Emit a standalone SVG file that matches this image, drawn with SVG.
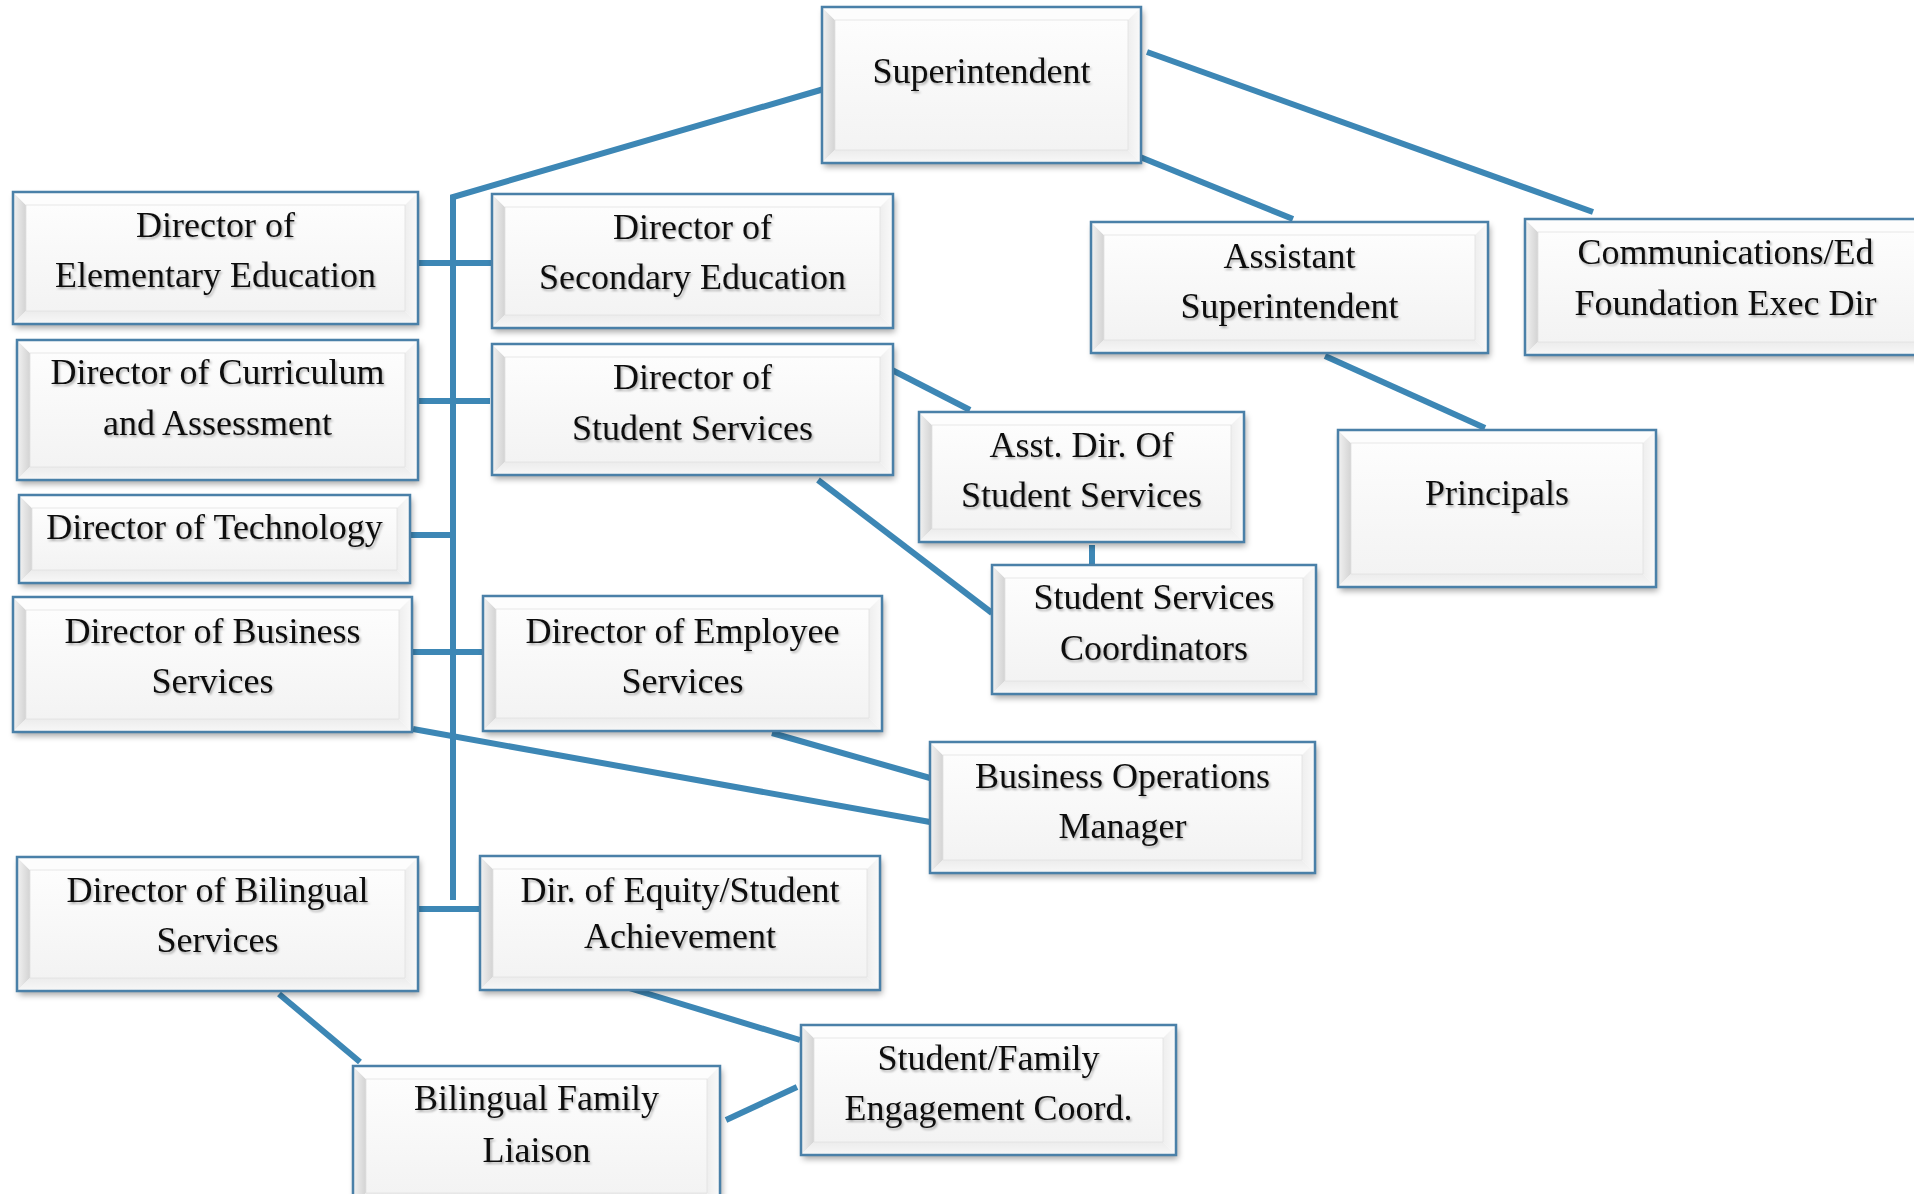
<svg xmlns="http://www.w3.org/2000/svg" width="1914" height="1194" viewBox="0 0 1914 1194">
<defs>
<style>
.o{fill:#fff;filter:url(#sh)}
.s{fill:none;stroke:#4a80a8;stroke-width:2.5}
.bl{fill:url(#gl)}
.bt{fill:#fdfdfd}
.br{fill:url(#gr)}
.bb{fill:url(#gb)}
.f{fill:url(#gf);stroke:#e2e2e2;stroke-width:0.8}
text{font-family:"Liberation Serif","Times New Roman",serif;font-size:36px;fill:#111;text-anchor:middle;filter:url(#ts)}
.c{fill:none;stroke:#3d87b5;stroke-width:6;stroke-linecap:butt;stroke-linejoin:miter}
</style>
<linearGradient id="gl" x1="0" y1="0" x2="1" y2="0"><stop offset="0" stop-color="#f2f2f2"/><stop offset="1" stop-color="#d3d3d3"/></linearGradient>
<linearGradient id="gr" x1="0" y1="0" x2="1" y2="0"><stop offset="0" stop-color="#eeeeee"/><stop offset="1" stop-color="#fafafa"/></linearGradient>
<linearGradient id="gb" x1="0" y1="0" x2="0" y2="1"><stop offset="0" stop-color="#ececec"/><stop offset="1" stop-color="#f8f8f8"/></linearGradient>
<linearGradient id="gf" x1="0" y1="0" x2="0" y2="1"><stop offset="0" stop-color="#fdfdfd"/><stop offset="1" stop-color="#f3f3f3"/></linearGradient>
<filter id="sh" x="-5%" y="-5%" width="112%" height="120%"><feDropShadow dx="2" dy="4" stdDeviation="3" flood-color="#000" flood-opacity="0.35"/></filter>
<filter id="ts" x="-5%" y="-20%" width="110%" height="150%"><feDropShadow dx="1.5" dy="2" stdDeviation="1.2" flood-color="#000" flood-opacity="0.3"/></filter>
</defs>
<rect width="1914" height="1194" fill="#fff"/>
<g id="connectors">
<polyline class="c" points="824,89 453,197 453,900"/>
<path class="c" d="M418,263 H492"/>
<path class="c" d="M418,401 H490"/>
<path class="c" d="M410,535 H453"/>
<path class="c" d="M413,652 H483"/>
<path class="c" d="M418,909 H480"/>
<path class="c" d="M1147,52 L1593,212"/>
<path class="c" d="M1140,157 L1293,219"/>
<path class="c" d="M1325,356 L1485,428"/>
<path class="c" d="M892,370 L970,410"/>
<path class="c" d="M818,480 L992,613"/>
<path class="c" d="M1092,545 V565"/>
<path class="c" d="M772,733 L930,778"/>
<path class="c" d="M413,729 L930,822"/>
<path class="c" d="M279,994 L360,1062"/>
<path class="c" d="M629,988 L800,1040"/>
<path class="c" d="M726,1120 L797,1087"/>
</g>
<g id="n-super" transform="translate(822,7)">
<rect class="o" width="319" height="156"/>
<polygon class="bl" points="0,0 13,13 13,143 0,156"/><polygon class="bt" points="0,0 319,0 306,13 13,13"/><polygon class="br" points="319,0 319,156 306,143 306,13"/><polygon class="bb" points="0,156 13,143 306,143 319,156"/>
<rect class="f" x="13" y="13" width="293" height="130"/><rect class="s" width="319" height="156"/>
<text x="159.5" y="76">Superintendent</text>
</g>
<g id="n-elem" transform="translate(13,192)">
<rect class="o" width="405" height="132"/>
<polygon class="bl" points="0,0 13,13 13,119 0,132"/><polygon class="bt" points="0,0 405,0 392,13 13,13"/><polygon class="br" points="405,0 405,132 392,119 392,13"/><polygon class="bb" points="0,132 13,119 392,119 405,132"/>
<rect class="f" x="13" y="13" width="379" height="106"/><rect class="s" width="405" height="132"/>
<text x="202.5" y="45">Director of</text><text x="202.5" y="95">Elementary Education</text>
</g>
<g id="n-sec" transform="translate(492,194)">
<rect class="o" width="401" height="134"/>
<polygon class="bl" points="0,0 13,13 13,121 0,134"/><polygon class="bt" points="0,0 401,0 388,13 13,13"/><polygon class="br" points="401,0 401,134 388,121 388,13"/><polygon class="bb" points="0,134 13,121 388,121 401,134"/>
<rect class="f" x="13" y="13" width="375" height="108"/><rect class="s" width="401" height="134"/>
<text x="200.5" y="45">Director of</text><text x="200.5" y="95">Secondary Education</text>
</g>
<g id="n-curr" transform="translate(17,340)">
<rect class="o" width="401" height="140"/>
<polygon class="bl" points="0,0 13,13 13,127 0,140"/><polygon class="bt" points="0,0 401,0 388,13 13,13"/><polygon class="br" points="401,0 401,140 388,127 388,13"/><polygon class="bb" points="0,140 13,127 388,127 401,140"/>
<rect class="f" x="13" y="13" width="375" height="114"/><rect class="s" width="401" height="140"/>
<text x="200.5" y="44">Director of Curriculum</text><text x="200.5" y="95">and Assessment</text>
</g>
<g id="n-stus" transform="translate(492,344)">
<rect class="o" width="401" height="131"/>
<polygon class="bl" points="0,0 13,13 13,118 0,131"/><polygon class="bt" points="0,0 401,0 388,13 13,13"/><polygon class="br" points="401,0 401,131 388,118 388,13"/><polygon class="bb" points="0,131 13,118 388,118 401,131"/>
<rect class="f" x="13" y="13" width="375" height="105"/><rect class="s" width="401" height="131"/>
<text x="200.5" y="45">Director of</text><text x="200.5" y="96">Student Services</text>
</g>
<g id="n-tech" transform="translate(19,495)">
<rect class="o" width="391" height="88"/>
<polygon class="bl" points="0,0 13,13 13,75 0,88"/><polygon class="bt" points="0,0 391,0 378,13 13,13"/><polygon class="br" points="391,0 391,88 378,75 378,13"/><polygon class="bb" points="0,88 13,75 378,75 391,88"/>
<rect class="f" x="13" y="13" width="365" height="62"/><rect class="s" width="391" height="88"/>
<text x="195.5" y="44">Director of Technology</text>
</g>
<g id="n-bus" transform="translate(13,597)">
<rect class="o" width="399" height="135"/>
<polygon class="bl" points="0,0 13,13 13,122 0,135"/><polygon class="bt" points="0,0 399,0 386,13 13,13"/><polygon class="br" points="399,0 399,135 386,122 386,13"/><polygon class="bb" points="0,135 13,122 386,122 399,135"/>
<rect class="f" x="13" y="13" width="373" height="109"/><rect class="s" width="399" height="135"/>
<text x="199.5" y="46">Director of Business</text><text x="199.5" y="96">Services</text>
</g>
<g id="n-emp" transform="translate(483,596)">
<rect class="o" width="399" height="135"/>
<polygon class="bl" points="0,0 13,13 13,122 0,135"/><polygon class="bt" points="0,0 399,0 386,13 13,13"/><polygon class="br" points="399,0 399,135 386,122 386,13"/><polygon class="bb" points="0,135 13,122 386,122 399,135"/>
<rect class="f" x="13" y="13" width="373" height="109"/><rect class="s" width="399" height="135"/>
<text x="199.5" y="47">Director of Employee</text><text x="199.5" y="97">Services</text>
</g>
<g id="n-bil" transform="translate(17,857)">
<rect class="o" width="401" height="134"/>
<polygon class="bl" points="0,0 13,13 13,121 0,134"/><polygon class="bt" points="0,0 401,0 388,13 13,13"/><polygon class="br" points="401,0 401,134 388,121 388,13"/><polygon class="bb" points="0,134 13,121 388,121 401,134"/>
<rect class="f" x="13" y="13" width="375" height="108"/><rect class="s" width="401" height="134"/>
<text x="200.5" y="45">Director of Bilingual</text><text x="200.5" y="95">Services</text>
</g>
<g id="n-equ" transform="translate(480,856)">
<rect class="o" width="400" height="134"/>
<polygon class="bl" points="0,0 13,13 13,121 0,134"/><polygon class="bt" points="0,0 400,0 387,13 13,13"/><polygon class="br" points="400,0 400,134 387,121 387,13"/><polygon class="bb" points="0,134 13,121 387,121 400,134"/>
<rect class="f" x="13" y="13" width="374" height="108"/><rect class="s" width="400" height="134"/>
<text x="200" y="46">Dir. of Equity/Student</text><text x="200" y="92">Achievement</text>
</g>
<g id="n-liaison" transform="translate(353,1066)">
<rect class="o" width="367" height="140"/>
<polygon class="bl" points="0,0 13,13 13,127 0,140"/><polygon class="bt" points="0,0 367,0 354,13 13,13"/><polygon class="br" points="367,0 367,140 354,127 354,13"/><polygon class="bb" points="0,140 13,127 354,127 367,140"/>
<rect class="f" x="13" y="13" width="341" height="114"/><rect class="s" width="367" height="140"/>
<text x="183.5" y="44">Bilingual Family</text><text x="183.5" y="96">Liaison</text>
</g>
<g id="n-eng" transform="translate(801,1025)">
<rect class="o" width="375" height="130"/>
<polygon class="bl" points="0,0 13,13 13,117 0,130"/><polygon class="bt" points="0,0 375,0 362,13 13,13"/><polygon class="br" points="375,0 375,130 362,117 362,13"/><polygon class="bb" points="0,130 13,117 362,117 375,130"/>
<rect class="f" x="13" y="13" width="349" height="104"/><rect class="s" width="375" height="130"/>
<text x="187.5" y="45">Student/Family</text><text x="187.5" y="95">Engagement Coord.</text>
</g>
<g id="n-asup" transform="translate(1091,222)">
<rect class="o" width="397" height="131"/>
<polygon class="bl" points="0,0 13,13 13,118 0,131"/><polygon class="bt" points="0,0 397,0 384,13 13,13"/><polygon class="br" points="397,0 397,131 384,118 384,13"/><polygon class="bb" points="0,131 13,118 384,118 397,131"/>
<rect class="f" x="13" y="13" width="371" height="105"/><rect class="s" width="397" height="131"/>
<text x="198.5" y="46">Assistant</text><text x="198.5" y="96">Superintendent</text>
</g>
<g id="n-comm" transform="translate(1525,219)">
<rect class="o" width="405" height="136"/>
<polygon class="bl" points="0,0 13,13 13,123 0,136"/><polygon class="bt" points="0,0 405,0 392,13 13,13"/><polygon class="br" points="405,0 405,136 392,123 392,13"/><polygon class="bb" points="0,136 13,123 392,123 405,136"/>
<rect class="f" x="13" y="13" width="379" height="110"/><rect class="s" width="405" height="136"/>
<text x="200.5" y="45">Communications/Ed</text><text x="200.5" y="96">Foundation Exec Dir</text>
</g>
<g id="n-prin" transform="translate(1338,430)">
<rect class="o" width="318" height="157"/>
<polygon class="bl" points="0,0 13,13 13,144 0,157"/><polygon class="bt" points="0,0 318,0 305,13 13,13"/><polygon class="br" points="318,0 318,157 305,144 305,13"/><polygon class="bb" points="0,157 13,144 305,144 318,157"/>
<rect class="f" x="13" y="13" width="292" height="131"/><rect class="s" width="318" height="157"/>
<text x="159" y="75">Principals</text>
</g>
<g id="n-asstdir" transform="translate(919,412)">
<rect class="o" width="325" height="130"/>
<polygon class="bl" points="0,0 13,13 13,117 0,130"/><polygon class="bt" points="0,0 325,0 312,13 13,13"/><polygon class="br" points="325,0 325,130 312,117 312,13"/><polygon class="bb" points="0,130 13,117 312,117 325,130"/>
<rect class="f" x="13" y="13" width="299" height="104"/><rect class="s" width="325" height="130"/>
<text x="162.5" y="45">Asst. Dir. Of</text><text x="162.5" y="95">Student Services</text>
</g>
<g id="n-coord" transform="translate(992,565)">
<rect class="o" width="324" height="129"/>
<polygon class="bl" points="0,0 13,13 13,116 0,129"/><polygon class="bt" points="0,0 324,0 311,13 13,13"/><polygon class="br" points="324,0 324,129 311,116 311,13"/><polygon class="bb" points="0,129 13,116 311,116 324,129"/>
<rect class="f" x="13" y="13" width="298" height="103"/><rect class="s" width="324" height="129"/>
<text x="162" y="44">Student Services</text><text x="162" y="95">Coordinators</text>
</g>
<g id="n-bom" transform="translate(930,742)">
<rect class="o" width="385" height="131"/>
<polygon class="bl" points="0,0 13,13 13,118 0,131"/><polygon class="bt" points="0,0 385,0 372,13 13,13"/><polygon class="br" points="385,0 385,131 372,118 372,13"/><polygon class="bb" points="0,131 13,118 372,118 385,131"/>
<rect class="f" x="13" y="13" width="359" height="105"/><rect class="s" width="385" height="131"/>
<text x="192.5" y="46">Business Operations</text><text x="192.5" y="96">Manager</text>
</g>
</svg>
